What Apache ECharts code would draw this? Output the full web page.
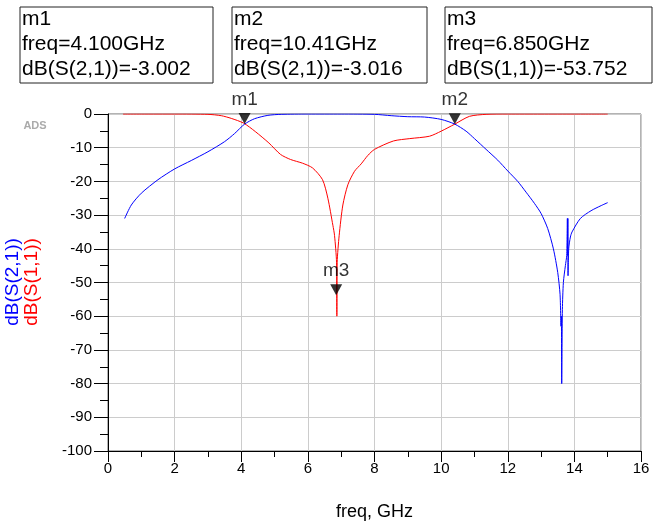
<!DOCTYPE html>
<html>
<head>
<meta charset="utf-8">
<style>
  html, body { margin: 0; padding: 0; background: #fff; }
  #chart { width: 664px; height: 523px; }
</style>
<script src="https://cdn.jsdelivr.net/npm/echarts/dist/echarts.min.js"></script>
</head>
<body>
<div id="chart"></div>
<script>
// S21 (blue) trace
const s21Freq = [0.5, 0.7, 1.0, 1.5, 2.0, 2.5, 3.0, 3.5, 3.8, 4.1, 4.4, 4.8, 5.2, 6.0, 7.0, 8.0, 8.5, 9.0, 9.5, 10.0,
  10.41, 10.75, 11.0, 11.35, 11.7, 12.0, 12.3, 12.55, 12.8, 13.0, 13.2, 13.37, 13.5, 13.57, 13.6, 13.61, 13.62,
  13.64, 13.67, 13.73, 13.77, 13.79, 13.8, 13.805, 13.81, 13.83, 13.88, 13.93, 14.18, 14.5, 14.8, 15.0];
const s21Db = [-31, -27, -23.5, -19.5, -16.3, -13.8, -11.2, -8.2, -5.8, -3.0, -1.4, -0.4, -0.1, 0, 0, -0.1, -0.5, -0.8, -0.9, -1.6,
  -3.0, -5.1, -7.3, -10.5, -13.7, -16.9, -20, -23.2, -26.5, -29.5, -34, -40, -47, -53.5, -63, -60, -80,
  -58, -50, -45, -42, -31, -42, -31, -48, -40, -36.5, -35, -31, -28.7, -27.2, -26.3];

// S11 (red) trace
const s11Freq = [0.45, 1.0, 2.0, 3.0, 3.4, 3.7, 4.07, 4.42, 4.83, 5.18, 5.48, 5.84, 6.14, 6.44, 6.6, 6.75, 6.8, 6.86, 6.87,
  6.88, 6.94, 7.05, 7.2, 7.4, 7.6, 7.8, 8.0, 8.57, 9.06, 9.65, 10.0, 10.41, 10.85, 11.35, 12.0, 13.0, 14.0, 15.0];
const s11Db = [0, 0, 0, -0.1, -0.5, -1.3, -2.7, -5.2, -8.6, -12, -13.5, -14.6, -16, -19.5, -25, -33, -36, -44, -60,
  -44, -36, -27, -21, -17, -14.8, -12.3, -10.5, -8, -7.3, -6.6, -5.1, -3.0, -0.7, -0.1, 0, 0, 0, 0];

// markers
const markerNames = ['m1', 'm2', 'm3'];
const markerFreq = [4.1, 10.41, 6.85];
const markerDb = [-3.002, -3.016, -53.752];
const markerText = [
  ['m1', 'freq=4.100GHz', 'dB(S(2,1))=-3.002'],
  ['m2', 'freq=10.41GHz', 'dB(S(2,1))=-3.016'],
  ['m3', 'freq=6.850GHz', 'dB(S(1,1))=-53.752']
];

const FONT = '"Liberation Sans", Arial, sans-serif';

const zip = (xs, ys) => xs.map((x, i) => [x, ys[i]]);

const chart = echarts.init(document.getElementById('chart'));

// marker readout boxes
const boxes = [
  { x: 20, y: 7, w: 193, h: 76 },
  { x: 232, y: 7, w: 195, h: 76 },
  { x: 445, y: 7, w: 207, h: 76 }
];
const graphics = [];
boxes.forEach((b, i) => {
  graphics.push({
    type: 'rect',
    shape: { x: b.x, y: b.y, width: b.w, height: b.h },
    style: { fill: '#fff', stroke: '#222', lineWidth: 1 }
  });
  markerText[i].forEach((line, j) => {
    graphics.push({
      type: 'text',
      x: b.x + 2,
      y: b.y + 12 + j * 25,
      style: {
        text: line, fill: '#000', font: '21px ' + FONT,
        textAlign: 'left', textVerticalAlign: 'middle'
      }
    });
  });
});

// ADS stamp
graphics.push({
  type: 'text', x: 35, y: 126,
  style: { text: 'ADS', fill: '#aaa', font: 'bold 11px ' + FONT, textAlign: 'center', textVerticalAlign: 'middle' }
});

// y axis titles, rotated
graphics.push({
  type: 'text', x: 13, y: 282, rotation: Math.PI / 2,
  style: { text: 'dB(S(2,1))', fill: '#0000ff', font: '19px ' + FONT, textAlign: 'center', textVerticalAlign: 'middle' }
});
graphics.push({
  type: 'text', x: 32, y: 282, rotation: Math.PI / 2,
  style: { text: 'dB(S(1,1))', fill: '#ff0000', font: '19px ' + FONT, textAlign: 'center', textVerticalAlign: 'middle' }
});

chart.setOption({
  animation: false,
  backgroundColor: '#fff',
  textStyle: { fontFamily: FONT },
  grid: {
    left: 108, top: 114, right: 23, bottom: 72,
    outerBoundsMode: 'none', containLabel: false,
    show: true, borderColor: '#666', borderWidth: 1
  },
  xAxis: {
    type: 'value', min: 0, max: 16, interval: 2,
    name: 'freq, GHz', nameLocation: 'middle', nameGap: 52,
    nameTextStyle: { fontSize: 18, color: '#000', fontFamily: FONT },
    axisLine: { show: true, onZero: false, lineStyle: { color: '#000', width: 1 } },
    axisTick: { show: true, length: 11, lineStyle: { color: '#000' } },
    minorTick: { show: true, splitNumber: 2, length: 6, lineStyle: { color: '#000' } },
    axisLabel: { color: '#000', fontSize: 15, margin: 10, fontFamily: FONT },
    splitLine: { show: true, lineStyle: { color: '#ccc', width: 1 } }
  },
  yAxis: {
    type: 'value', min: -100, max: 0, interval: 10,
    axisLine: { show: true, onZero: false, lineStyle: { color: '#000', width: 1 } },
    axisTick: { show: true, length: 14, lineStyle: { color: '#000' } },
    minorTick: { show: true, splitNumber: 2, length: 8, lineStyle: { color: '#000' } },
    axisLabel: { color: '#000', fontSize: 15, margin: 16, fontFamily: FONT },
    splitLine: { show: true, lineStyle: { color: '#ccc', width: 1 } }
  },
  graphic: graphics,
  series: [
    {
      name: 'dB(S(1,1))', type: 'line', data: zip(s11Freq, s11Db),
      smooth: 0.25,
      showSymbol: false, lineStyle: { color: '#ff0000', width: 1 }, z: 3
    },
    {
      name: 'dB(S(2,1))', type: 'line', data: zip(s21Freq, s21Db),
      smooth: 0.25,
      showSymbol: false, lineStyle: { color: '#0000ff', width: 1 }, z: 4
    },
    {
      name: 'markers', type: 'scatter', clip: false, z: 10,
      data: markerNames.map((n, i) => ({ name: n, value: [markerFreq[i], markerDb[i]] })),
      symbol: 'path://M0,0 L12,0 L6,11 Z',
      symbolSize: [12, 11],
      symbolOffset: [0, -5.5],
      itemStyle: { color: '#000' },
      label: {
        show: true, position: 'top', distance: 4,
        formatter: (p) => p.name, color: '#000', fontSize: 19, fontFamily: FONT
      }
    }
  ]
});
</script>
</body>
</html>
